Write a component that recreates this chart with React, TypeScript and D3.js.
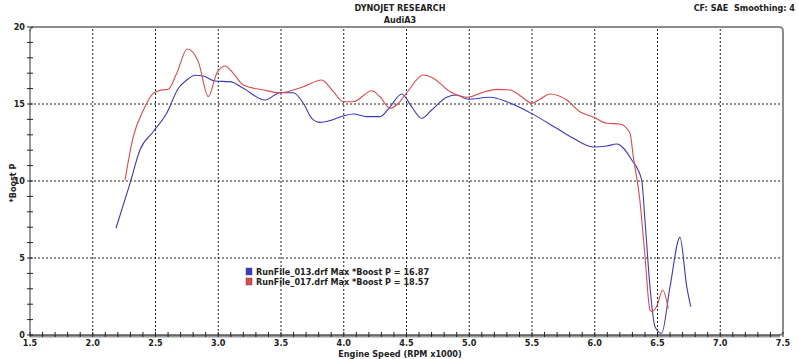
import React from "react";
import * as d3 from "d3";

const titleLines = ["DYNOJET RESEARCH", "AudiA3"];
const cornerNote = "CF: SAE  Smoothing: 4";
const xLabel = "Engine Speed (RPM x1000)";
const yLabel = "*Boost P";
const xTicks = [1.5, 2.0, 2.5, 3.0, 3.5, 4.0, 4.5, 5.0, 5.5, 6.0, 6.5, 7.0, 7.5];
const yTicks = [0, 5, 10, 15, 20];

const seriesNames = [
  "RunFile_013.drf Max *Boost P = 16.87",
  "RunFile_017.drf Max *Boost P = 18.57",
];
const seriesColors = ["#3a3ac4", "#e04848"];

const blueRpm = [2.185, 2.297, 2.376, 2.482, 2.589, 2.682, 2.749, 2.815, 2.881, 2.974, 3.094, 3.2, 3.373, 3.492, 3.598, 3.678, 3.745, 3.811, 3.89, 3.996, 4.076, 4.183, 4.289, 4.369, 4.462, 4.541, 4.621, 4.701, 4.82, 4.9, 4.992, 5.165, 5.298, 5.484, 5.697, 5.829, 5.988, 6.095, 6.175, 6.295, 6.374, 6.4, 6.44, 6.48, 6.533, 6.6, 6.679, 6.733, 6.765];
const blueBoost = [6.93, 9.85, 12.01, 13.2, 14.4, 16.02, 16.56, 16.87, 16.82, 16.49, 16.45, 16.02, 15.26, 15.73, 15.73, 15.05, 14.07, 13.81, 13.92, 14.22, 14.35, 14.18, 14.18, 14.82, 15.65, 14.82, 14.07, 14.61, 15.44, 15.58, 15.31, 15.44, 15.15, 14.44, 13.42, 12.77, 12.21, 12.27, 12.4, 11.36, 10.06, 7.47, 3.14, 0.54, 0.11, 3.14, 6.34, 3.14, 1.84];

const redRpm = [2.257, 2.323, 2.403, 2.482, 2.549, 2.602, 2.669, 2.753, 2.841, 2.921, 2.988, 3.054, 3.12, 3.2, 3.359, 3.492, 3.678, 3.824, 3.917, 3.996, 4.076, 4.223, 4.289, 4.369, 4.435, 4.502, 4.634, 4.714, 4.847, 4.992, 5.086, 5.219, 5.325, 5.418, 5.498, 5.564, 5.643, 5.777, 5.882, 5.988, 6.095, 6.201, 6.281, 6.307, 6.36, 6.4, 6.44, 6.453, 6.496, 6.541, 6.586];
const redBoost = [10.06, 12.88, 14.6, 15.69, 15.91, 15.96, 16.99, 18.57, 17.75, 15.47, 16.99, 17.47, 16.99, 16.23, 15.91, 15.73, 16.12, 16.56, 15.8, 15.15, 15.15, 15.86, 15.47, 14.72, 15.05, 15.73, 16.88, 16.67, 15.8, 15.44, 15.69, 15.95, 15.91, 15.47, 15.05, 15.31, 15.65, 15.26, 14.5, 14.16, 13.75, 13.7, 13.1, 11.58, 8.7, 5.15, 1.62, 1.52, 1.9, 2.92, 1.73];

const W = 799;
const H = 359;
const left = 30;
const right = 783;
const top = 27;
const bottom = 335;

export default function App() {
  const x = d3.scaleLinear().domain([1.5, 7.5]).range([left, right]);
  const y = d3.scaleLinear().domain([0, 20]).range([bottom, top]);
  const line = d3
    .line<[number, number]>()
    .x((d) => x(d[0]))
    .y((d) => y(d[1]))
    .curve(d3.curveMonotoneX);
  const blueData = blueRpm.map((r, i) => [r, blueBoost[i]] as [number, number]);
  const redData = redRpm.map((r, i) => [r, redBoost[i]] as [number, number]);
  const minorX = d3.range(15, 76).map((v) => v / 10);
  const minorY = d3.range(0, 21);
  const font = "Tahoma, 'DejaVu Sans Condensed', 'Liberation Sans', sans-serif";

  return (
    <svg
      width={W}
      height={H}
      style={{ position: "absolute", left: 0, top: 0, background: "#fff" }}
      fontFamily={font}
      fontWeight="bold"
    >
      <rect x={0} y={0} width={W} height={H} fill="#fff" />
      {xTicks.slice(1, -1).map((t) => (
        <line key={"gx" + t} x1={x(t)} x2={x(t)} y1={top + 2} y2={bottom - 1} stroke="#222" strokeDasharray="2,2" strokeWidth={1} />
      ))}
      {yTicks.slice(1, -1).map((t) => (
        <line key={"gy" + t} x1={left} x2={right - 2} y1={y(t)} y2={y(t)} stroke="#222" strokeDasharray="2,2" strokeWidth={1} />
      ))}
      <path d={`M${left},${top + 4} Q${left},${top} ${left + 4},${top} L${right - 4},${top} Q${right},${top} ${right},${top + 4} L${right},${bottom - 3} Q${right},${bottom} ${right - 4},${bottom}`} fill="none" stroke="#8c8c8c" strokeWidth={2} />
      <line x1={left} x2={right - 3} y1={bottom + 1} y2={bottom + 1} stroke="#9a9a9a" strokeWidth={3} />
      <line x1={left} x2={right - 3} y1={bottom} y2={bottom} stroke="#333" strokeWidth={1} />
      <line x1={left} x2={left} y1={top + 3} y2={bottom} stroke="#333" strokeWidth={1} />
      {minorX.map((t) => (
        <line key={"tx" + t} x1={x(t)} x2={x(t)} y1={bottom - 3} y2={bottom + 2} stroke="#222" strokeWidth={1} />
      ))}
      {minorY.map((t) => (
        <line key={"ty" + t} x1={left - 3} x2={left + 3} y1={y(t)} y2={y(t)} stroke="#222" strokeWidth={1} />
      ))}
      <path d={line(blueData) || ""} fill="none" stroke={seriesColors[0]} strokeWidth={1.1} />
      <path d={line(redData) || ""} fill="none" stroke={seriesColors[1]} strokeWidth={1.1} />
      {xTicks.map((t) => (
        <text key={"lx" + t} x={x(t)} y={bottom + 11} textAnchor="middle" fontSize={9} fill="#222">
          {t.toFixed(1)}
        </text>
      ))}
      {yTicks.map((t) => (
        <text key={"ly" + t} x={left - 5} y={y(t) + 3} textAnchor="end" fontSize={9} fill="#222">
          {t}
        </text>
      ))}
      <text x={400} y={11} textAnchor="middle" fontSize={9} fill="#222">{titleLines[0]}</text>
      <text x={400} y={23} textAnchor="middle" fontSize={9} fill="#222">{titleLines[1]}</text>
      <text x={795} y={11} textAnchor="end" fontSize={9} fill="#222" style={{ whiteSpace: "pre" }}>{cornerNote}</text>
      <text x={400} y={357} textAnchor="middle" fontSize={9} fill="#222">{xLabel}</text>
      <text transform={`translate(16,183) rotate(-90)`} textAnchor="middle" fontSize={9} fill="#222">{yLabel}</text>
      {seriesNames.map((n, i) => (
        <g key={n}>
          <rect x={246} y={268 + i * 10} width={6} height={7} fill={seriesColors[i]} stroke="#555" strokeWidth={0.5} />
          <text x={256} y={275 + i * 10} fontSize={9} fill="#222">{n}</text>
        </g>
      ))}
    </svg>
  );
}
